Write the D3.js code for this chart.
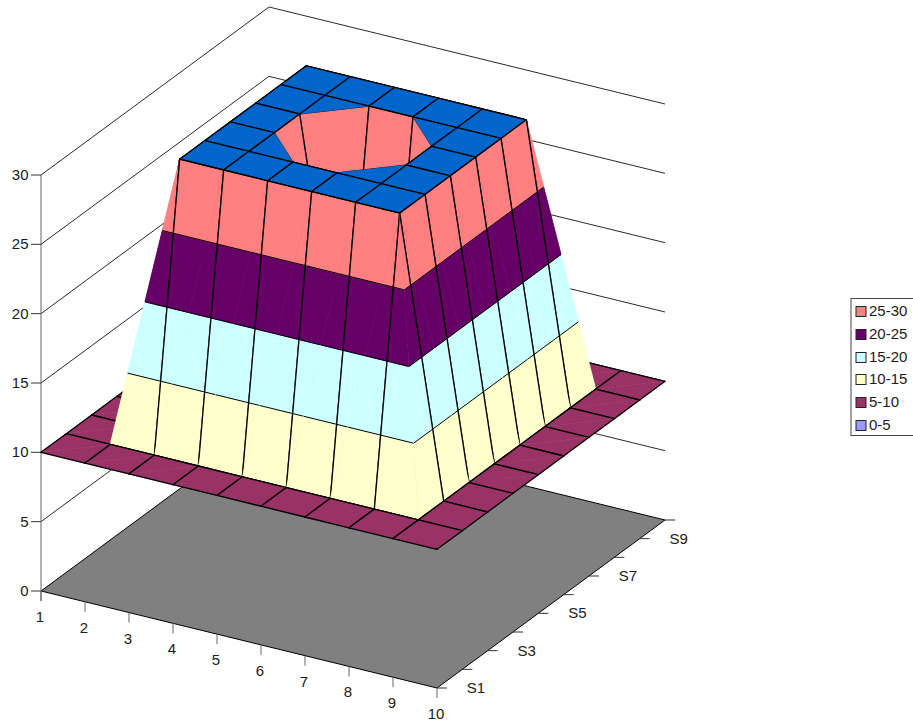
<!DOCTYPE html>
<html>
<head>
<meta charset="utf-8">
<style>
  html, body { margin: 0; padding: 0; background: #fff; }
  svg { display: block; }
  text { font-family: "Liberation Sans", Arial, sans-serif; font-size: 15px; fill: #1a1a1a; }
</style>
<script src="https://cdn.jsdelivr.net/npm/d3@7"></script>
</head>
<body>
<svg id="chart" width="913" height="721"></svg>
<script>
// Categories along the front axis, series along the depth axis.
const categories = [1, 2, 3, 4, 5, 6, 7, 8, 9, 10];
const seriesNames = ["S1", "S2", "S3", "S4", "S5", "S6", "S7", "S8", "S9", "S10"];

// One row of heights per series.
const S1  = [10, 10, 10, 10, 10, 10, 10, 10, 10, 10];
const S2  = [10, 10, 10, 10, 10, 10, 10, 10, 10, 10];
const S3  = [10, 10, 30, 30, 30, 30, 30, 30, 10, 10];
const S4  = [10, 10, 30, 30, 30, 30, 30, 30, 10, 10];
const S5  = [10, 10, 30, 30, 10, 10, 30, 30, 10, 10];
const S6  = [10, 10, 30, 30, 10, 10, 30, 30, 10, 10];
const S7  = [10, 10, 30, 30, 30, 30, 30, 30, 10, 10];
const S8  = [10, 10, 30, 30, 30, 30, 30, 30, 10, 10];
const S9  = [10, 10, 10, 10, 10, 10, 10, 10, 10, 10];
const S10 = [10, 10, 10, 10, 10, 10, 10, 10, 10, 10];
const rows = [S1, S2, S3, S4, S5, S6, S7, S8, S9, S10];

const valueTicks = [0, 5, 10, 15, 20, 25, 30];
const bandLabels = ["0-5", "5-10", "10-15", "15-20", "20-25", "25-30"];
const bandColors = ["#9999FF", "#993366", "#FFFFCC", "#CCFFFF", "#660066", "#FF8080"];
const ceilingColor = "#0066CC";
const floorColor = "#808080";

// Oblique projection: each data axis contributes a screen offset.
const originX = 41;
const catDX = d3.scaleLinear().domain([0, 9]).range([0, 396]);
const catDY = d3.scaleLinear().domain([0, 9]).range([0, 97]);
const serDX = d3.scaleLinear().domain([0, 9]).range([0, 228]);
const serDY = d3.scaleLinear().domain([0, 9]).range([0, -168]);
const valY  = d3.scaleLinear().domain([0, 30]).range([591, 175]);

const project = p => [
  originX + catDX(p.i) + serDX(p.j),
  valY(p.z) + catDY(p.i) + serDY(p.j)
];

const svg = d3.select("#chart");
const pathOf = d3.line().x(d => d[0]).y(d => d[1]);
const polyPath = pts => pathOf(pts.map(project)) + "Z";

// Floor
const iMax = categories.length - 1, jMax = seriesNames.length - 1;
svg.append("path")
  .attr("d", polyPath([
    {i: 0, j: 0, z: 0}, {i: iMax, j: 0, z: 0},
    {i: iMax, j: jMax, z: 0}, {i: 0, j: jMax, z: 0}
  ]))
  .attr("fill", floorColor).attr("stroke", "#000").attr("stroke-width", 1);

// Wall gridlines
const grid = svg.append("g").attr("fill", "none").attr("stroke", "#111").attr("stroke-width", 0.9);
valueTicks.filter(v => v > 0).forEach(v => {
  grid.append("path").attr("d", pathOf([
    {i: 0, j: 0, z: v}, {i: 0, j: jMax, z: v}, {i: iMax, j: jMax, z: v}
  ].map(project)));
});

// Height axis with ticks and labels
const axisColor = "#666";
const axes = svg.append("g");
axes.append("line")
  .attr("x1", originX).attr("x2", originX)
  .attr("y1", valY(30)).attr("y2", valY(0) + 10)
  .attr("stroke", axisColor);
valueTicks.forEach(v => {
  axes.append("line")
    .attr("x1", originX - 10).attr("x2", originX)
    .attr("y1", valY(v)).attr("y2", valY(v))
    .attr("stroke", "#333");
  axes.append("text")
    .attr("x", 28.5).attr("y", valY(v) + 5)
    .attr("text-anchor", "end").text(v);
});

// Category axis
categories.forEach((c, i) => {
  const [x, y] = project({i, j: 0, z: 0});
  axes.append("line").attr("x1", x).attr("x2", x).attr("y1", y).attr("y2", y + 10).attr("stroke", axisColor);
  axes.append("text").attr("x", x - 1).attr("y", y + 31).attr("text-anchor", "middle").text(c);
});

// Series axis: every series gets a tick, every other one a label
seriesNames.forEach((s, j) => {
  const [x, y] = project({i: iMax, j, z: 0});
  axes.append("line").attr("x1", x).attr("x2", x + 10).attr("y1", y).attr("y2", y).attr("stroke", "#333");
  if (j % 2 === 0) {
    axes.append("text").attr("x", x + 39).attr("y", y + 5).attr("text-anchor", "middle").text(s);
  }
});

// Surface helpers
const lerp = (a, b, t) => ({
  i: a.i + (b.i - a.i) * t,
  j: a.j + (b.j - a.j) * t,
  z: a.z + (b.z - a.z) * t
});

// Clip a polygon to one side of a height level.
function clipLevel(poly, level, keepAbove) {
  const inside = p => keepAbove ? p.z >= level : p.z <= level;
  const out = [];
  poly.forEach((p, k) => {
    const q = poly[(k + 1) % poly.length];
    if (inside(p)) out.push(p);
    if (inside(p) !== inside(q)) out.push(lerp(p, q, (level - p.z) / (q.z - p.z)));
  });
  return out;
}

// Segment where a triangle crosses a height level.
function contourSegment(tri, level) {
  const [lo, mid, hi] = tri.slice().sort((a, b) => a.z - b.z);
  if (level < lo.z || level > hi.z || lo.z === hi.z) return null;
  const a = lerp(lo, hi, (level - lo.z) / (hi.z - lo.z));
  const b = (level < mid.z || (level === mid.z && mid.z > lo.z))
    ? lerp(lo, mid, (level - lo.z) / (mid.z - lo.z))
    : lerp(mid, hi, (level - mid.z) / (hi.z - mid.z));
  const dist = Math.abs(a.i - b.i) + Math.abs(a.j - b.j);
  return dist < 1e-6 ? null : [a, b];
}

function isFlat(tri) {
  return tri[0].z === tri[1].z && tri[1].z === tri[2].z;
}

function drawTriangle(g, tri) {
  const zs = tri.map(p => p.z);
  const zMin = d3.min(zs), zMax = d3.max(zs);
  if (zMin === zMax) {
    const band = Math.ceil(zMin / 5) - 1;
    const color = zMin >= 30 ? ceilingColor : bandColors[band];
    g.append("path").attr("d", polyPath(tri)).attr("fill", color)
      .attr("stroke", color).attr("stroke-width", 0.6);
  } else {
    bandColors.forEach((color, b) => {
      const lo = valueTicks[b], hi = valueTicks[b + 1];
      if (hi <= zMin || lo >= zMax) return;
      const piece = clipLevel(clipLevel(tri, lo, true), hi, false);
      if (piece.length >= 3) {
        g.append("path").attr("d", polyPath(piece)).attr("fill", color)
          .attr("stroke", color).attr("stroke-width", 0.6);
      }
    });
    valueTicks.forEach(level => {
      const seg = contourSegment(tri, level);
      if (seg) {
        g.append("path").attr("d", pathOf(seg.map(project)))
          .attr("fill", "none").attr("stroke", "#000").attr("stroke-width", 1);
      }
    });
  }
  // Mesh edges run along the grid; the splitting diagonal stays undrawn.
  tri.forEach((p, k) => {
    const q = tri[(k + 1) % 3];
    if (p.i === q.i || p.j === q.j) {
      g.append("path").attr("d", pathOf([p, q].map(project)))
        .attr("fill", "none").attr("stroke", "#000").attr("stroke-width", 1.3)
        .attr("stroke-linecap", "round");
    }
  });
}

// Depth key within a cell: further triangles first, level tops last.
const nearness = tri => d3.sum(tri, p => p.i - p.j);

// Paint cells from the far corner towards the viewer.
const surface = svg.append("g");
for (let i = 0; i < iMax; i++) {
  for (let j = jMax - 1; j >= 0; j--) {
    const pt = (a, b) => ({i: a, j: b, z: rows[b][a]});
    const p00 = pt(i, j), p10 = pt(i + 1, j), p11 = pt(i + 1, j + 1), p01 = pt(i, j + 1);
    // Split along the diagonal with the greater combined height.
    const tris = (p00.z + p11.z >= p10.z + p01.z)
      ? [[p00, p11, p01], [p00, p10, p11]]
      : [[p01, p10, p00], [p01, p10, p11]];
    tris.sort((a, b) => (isFlat(a) - isFlat(b)) || (nearness(a) - nearness(b)));
    const g = surface.append("g");
    tris.forEach(t => drawTriangle(g, t));
  }
}

// Legend
const legend = svg.append("g");
legend.append("rect")
  .attr("x", 851).attr("y", 298.5).attr("width", 70).attr("height", 137)
  .attr("fill", "#fff").attr("stroke", "#444");
const legendY = d3.scaleLinear().domain([0, 5]).range([311, 425]);
d3.range(bandLabels.length).reverse().forEach((b, row) => {
  const y = legendY(row);
  legend.append("rect")
    .attr("x", 856).attr("y", Math.round(y) - 4.5).attr("width", 10).attr("height", 10)
    .attr("fill", bandColors[b]).attr("stroke", "#222");
  legend.append("text").attr("x", 869).attr("y", y + 5).text(bandLabels[b]);
});
</script>
</body>
</html>
